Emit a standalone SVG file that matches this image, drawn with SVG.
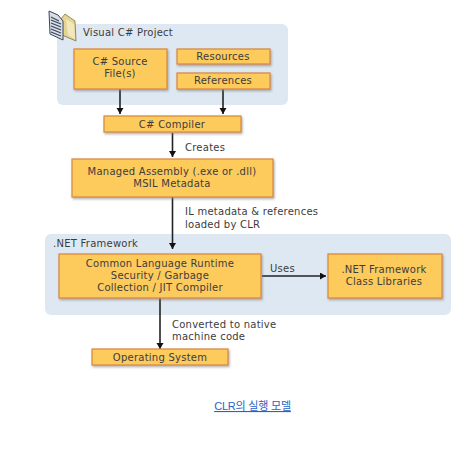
<svg xmlns="http://www.w3.org/2000/svg" width="471" height="458" viewBox="0 0 471 458">
<style>
text{font-family:"DejaVu Sans",Verdana,sans-serif;font-size:10px;fill:#3c3c3c;letter-spacing:.25px}
.m{text-anchor:middle}
.p{fill:#dee8f2}
.b{fill:#fdca5b;stroke:#d9873c;stroke-width:1.2;filter:url(#s)}
.c{stroke:#222;stroke-width:1.6;fill:none;marker-end:url(#a)}
</style>
<defs>
<marker id="a" markerUnits="userSpaceOnUse" markerWidth="8" markerHeight="8" refX="6" refY="3.5" orient="auto"><path d="M0 0L6 3.5L0 7Z" fill="#111"/></marker>
<filter id="s" x="-10%" y="-20%" width="120%" height="150%"><feDropShadow dx="1" dy="1.500" stdDeviation="1" flood-color="#777" flood-opacity=".6"/></filter>
</defs>
<rect width="471" height="458" fill="#fff"/>
<g id="panel-project"><rect class="p" x="57" y="24" width="231" height="81" rx="6"/>
<text x="83" y="36">Visual C# Project</text></g>
<g id="panel-framework"><rect class="p" x="45" y="234" width="406" height="81" rx="6"/>
<text x="53" y="247">.NET Framework</text></g>
<g id="icon"><path d="M60 20L65 14L75 21L76 41L62 35Z" fill="#e6d492" stroke="#7d7346" stroke-width=".8"/><path d="M66 19L74 24L75 39L68 35Z" fill="#f3e8bd"/><path d="M49 11L58 15L63 21L63 40L50 34Z" fill="#d8dde6" stroke="#3a4658" stroke-width="1"/><path d="M51 17L59 21M51 20L61 24M51 23L61 27M51 26L61 30M51 29L61 33M51 32L61 36" stroke="#3a4658" stroke-width="1.100"/></g>
<g id="connectors">
<path class="c" d="M120 89V114"/>
<path class="c" d="M223 89V114"/>
<path class="c" d="M172.500 133V157"/>
<path class="c" d="M172.500 197V249"/>
<path class="c" d="M160 298V349"/>
<path class="c" d="M262 276H326"/>
</g>
<g id="source"><rect class="b" x="74" y="49" width="93" height="40"/><text class="m" x="120" y="65">C# Source</text><text class="m" x="120" y="77">File(s)</text></g>
<g id="resources"><rect class="b" x="177" y="49" width="93" height="15"/><text class="m" x="223" y="60">Resources</text></g>
<g id="references"><rect class="b" x="177" y="73" width="93" height="16"/><text class="m" x="223" y="84">References</text></g>
<g id="compiler"><rect class="b" x="104" y="116" width="137" height="16"/><text class="m" x="172" y="128">C# Compiler</text></g>
<g id="assembly"><rect class="b" x="72" y="159" width="201" height="38"/><text class="m" x="172" y="175">Managed Assembly (.exe or .dll)</text><text class="m" x="172" y="187">MSIL Metadata</text></g>
<g id="clr"><rect class="b" x="59" y="254" width="202" height="44"/><text class="m" x="160" y="267">Common Language Runtime</text><text class="m" x="160" y="279">Security / Garbage</text><text class="m" x="160" y="291">Collection / JIT Compiler</text></g>
<g id="libraries"><rect class="b" x="328" y="254" width="114" height="44"/><text class="m" x="384" y="273">.NET Framework</text><text class="m" x="384" y="285">Class Libraries</text></g>
<g id="os"><rect class="b" x="92" y="349" width="136" height="16"/><text class="m" x="160" y="361">Operating System</text></g>
<g id="labels">
<text x="185" y="151">Creates</text>
<text x="185" y="215">IL metadata &amp; references</text>
<text x="185" y="228">loaded by CLR</text>
<text x="270" y="272">Uses</text>
<text x="172" y="328">Converted to native</text>
<text x="172" y="340">machine code</text>
</g>
<text id="caption" x="252.500" y="410" text-anchor="middle" style="font-family:'Liberation Sans','Noto Sans CJK KR',sans-serif;font-size:11px;fill:#2a62c8;text-decoration:underline;letter-spacing:-.2px">CLR의 실행 모델</text>
</svg>
